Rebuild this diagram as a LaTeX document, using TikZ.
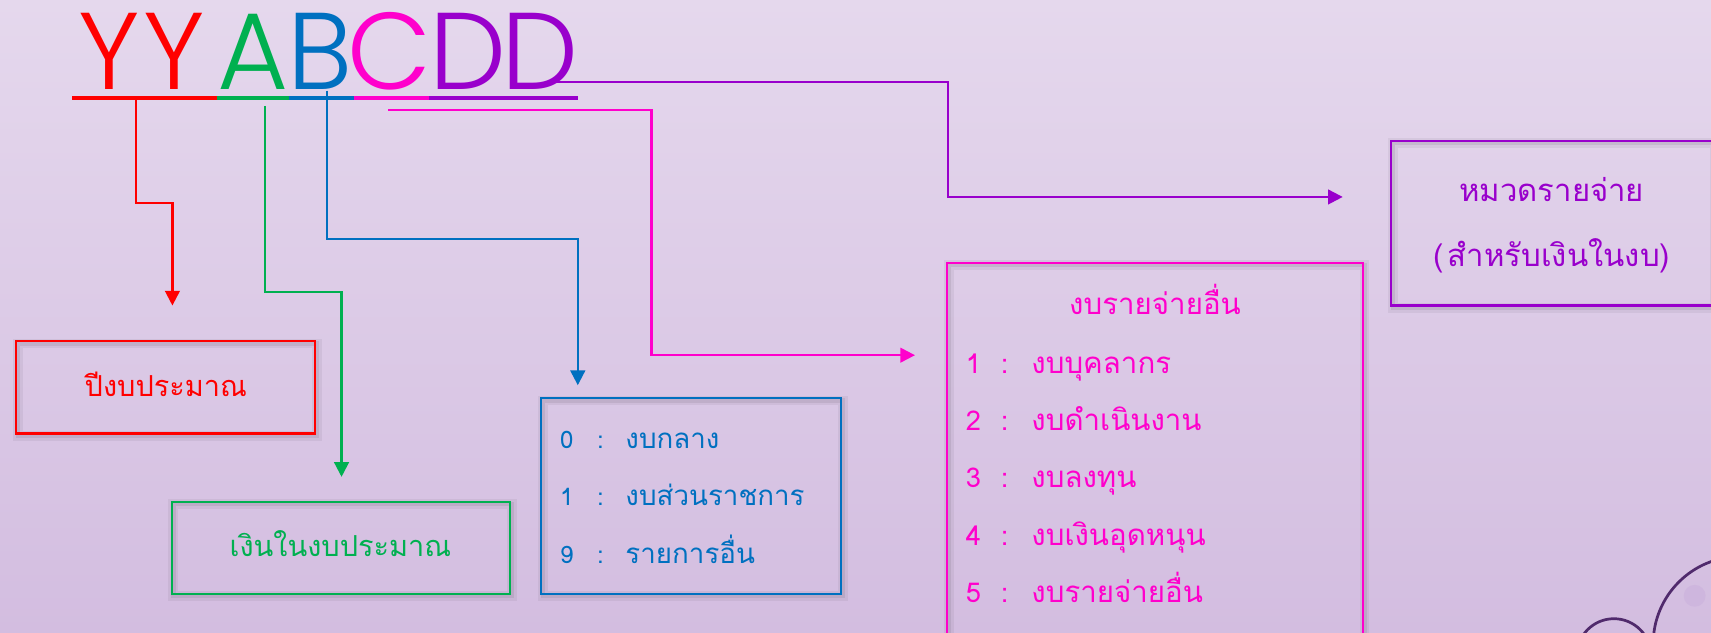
\documentclass[tikz,border=0pt]{standalone}
\usepackage{fontspec}
\newfontfamily\thaifont[Script=Thai]{Loma}
\newfontfamily\codefont{Poppins Light}
\usetikzlibrary{arrows.meta}
\definecolor{cred}{RGB}{255,0,0}
\definecolor{cgreen}{RGB}{0,176,80}
\definecolor{cblue}{RGB}{0,112,192}
\definecolor{cmag}{RGB}{255,0,204}
\definecolor{cpur}{RGB}{153,0,204}
\definecolor{bgtop}{RGB}{229,216,237}
\definecolor{bgbot}{RGB}{211,189,224}
\definecolor{ringcol}{RGB}{80,42,108}
\definecolor{dotcol}{RGB}{206,182,222}
\newcommand{\dg}[1]{{\fontsize{22}{22}\selectfont #1}}
\newcommand{\dgm}[1]{{\fontsize{25}{25}\selectfont #1}}
\tikzset{
  letter/.style={inner sep=0pt, anchor=base, font=\codefont\fontsize{100}{100}\selectfont},
  uline/.style={line width=4.2pt},
  conn/.style={line width=2pt, -{Triangle[length=13.5pt,width=13.5pt]}},
  box/.style={draw, line width=2pt, inner sep=0pt,
    preaction={draw=black, draw opacity=0.05, line width=9pt, transform canvas={xshift=1.5pt,yshift=-2pt}},
    preaction={draw=black, draw opacity=0.07, line width=4pt, transform canvas={xshift=1.5pt,yshift=-2pt}}},
  thai/.style={inner sep=0pt, font=\thaifont\fontsize{#1}{#1}\selectfont},
  item/.style={inner sep=0pt, anchor=base west, font=\thaifont\fontsize{#1}{#1}\selectfont},
}
\begin{document}
\begin{tikzpicture}[x=1pt,y=-1pt]
\useasboundingbox (0,0) rectangle (1568,580);
\clip (0,0) rectangle (1568,580);
\shade[top color=bgtop,bottom color=bgbot] (0,0) rectangle (1568,580);

% decorative circles
\draw[ringcol, line width=2.5pt] (1595,590) circle (80);
\fill[dotcol] (1553,546) circle (10);
\draw[ringcol, line width=2.5pt] (1479,601) circle (34);

% code letters
\node[letter, text=cred]   (y1) at (100,82) {Y};
\node[letter, text=cred]   (y2) at (160,82) {Y};
\node[letter, text=cgreen] (la) at (232,82) {A};
\node[letter, text=cblue]  (lb) at (293,82) {B};
\node[letter, text=cmag]   (lc) at (357,82) {C};
\node[letter, text=cpur]   (d1) at (429,82) {D};
\node[letter, text=cpur]   (d2) at (495,82) {D};

% underline segments
\draw[uline, cred]   (66,90) -- (199,90);
\draw[uline, cgreen] (199,90) -- (265,90);
\draw[uline, cblue]  (265,90) -- (324,90);
\draw[uline, cmag]   (324,90) -- (393,90);
\draw[uline, cpur]   (393,90) -- (529.5,90);

% boxes
\node[box, cred, minimum width=274pt, minimum height=84.5pt] (yearbox) at (152,355) {};
\node[box, cgreen, minimum width=310pt, minimum height=84pt] (fundbox) at (312.4,502) {};
\node[box, cblue, minimum width=275pt, minimum height=179pt] (planbox) at (633.5,454.5) {};
\node[box, cmag, minimum width=381pt, minimum height=399pt] (expbox) at (1058.5,440.5) {};
\node[box, cpur, minimum width=295pt, minimum height=151pt] (catbox) at (1422.5,204.5) {};

% texts
\node[thai=26.5, anchor=base, text=cred] (yeartxt) at (152,363.5) {ปีงบประมาณ};
\node[thai=26.5, anchor=base, text=cgreen] (fundtxt) at (312,510) {เงินในงบประมาณ};

\node[item=25.4, text=cblue] (p0) at (513,411) {\makebox[34pt][l]{\dg{0}}\makebox[26pt][l]{\dg{:}}งบกลาง};
\node[item=25.4, text=cblue] (p1) at (513,463.5) {\makebox[34pt][l]{\dg{1}}\makebox[26pt][l]{\dg{:}}งบส่วนราชการ};
\node[item=25.4, text=cblue] (p9) at (513,516) {\makebox[34pt][l]{\dg{9}}\makebox[26pt][l]{\dg{:}}รายการอื่น};

\node[thai=27, anchor=base, text=cmag] (exptitle) at (1058.5,288) {งบรายจ่ายอื่น};
\node[item=27, text=cmag] (e1) at (885,342) {\makebox[32pt][l]{\dgm{1}}\makebox[28pt][l]{\dgm{:}}งบบุคลากร};
\node[item=27, text=cmag] (e2) at (885,394.5) {\makebox[32pt][l]{\dgm{2}}\makebox[28pt][l]{\dgm{:}}งบดำเนินงาน};
\node[item=27, text=cmag] (e3) at (885,447) {\makebox[32pt][l]{\dgm{3}}\makebox[28pt][l]{\dgm{:}}งบลงทุน};
\node[item=27, text=cmag] (e4) at (885,499.5) {\makebox[32pt][l]{\dgm{4}}\makebox[28pt][l]{\dgm{:}}งบเงินอุดหนุน};
\node[item=27, text=cmag] (e5) at (885,552) {\makebox[32pt][l]{\dgm{5}}\makebox[28pt][l]{\dgm{:}}งบรายจ่ายอื่น};

\node[thai=28.5, anchor=base, text=cpur] (cat1) at (1422,185) {หมวดรายจ่าย};
\node[thai=28.5, anchor=base, text=cpur] (cat2) at (1422,244) {(\hspace{4pt}สำหรับเงินในงบ)};

% connector ends
\coordinate (rs) at (125,92);   \coordinate (rt) at (158,280);
\coordinate (gs) at (243,97);   \coordinate (gt) at (313,437);
\coordinate (bs) at (300,83);   \coordinate (bt) at (529.5,353);
\coordinate (ms) at (356,100.8); \coordinate (mt) at (838.5,325.5);
\coordinate (us) at (507,75);   \coordinate (ut) at (1230.5,180.5);

\draw[conn, cred]   (rs) -- (125,186) -| (rt);
\draw[conn, cgreen] (gs) -- (243,267.5) -| (gt);
\draw[conn, cblue]  (bs) -- (300,219) -| (bt);
\draw[conn, cmag]   (ms) -| (597,325.5) -- (mt);
\draw[conn, cpur]   (us) -| (869,180.5) -- (ut);
\end{tikzpicture}
\end{document}
